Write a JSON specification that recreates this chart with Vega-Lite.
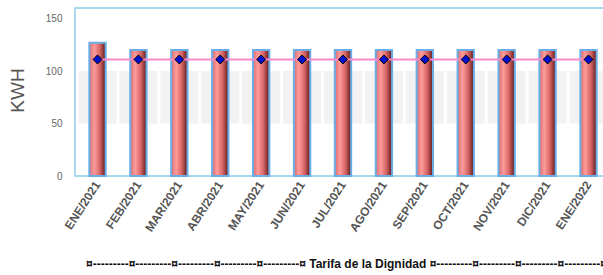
{
  "$schema": "https://vega.github.io/schema/vega-lite/v6.json",
  "width": 536,
  "height": 168,
  "autosize": {"type": "none"},
  "padding": {"left": 75, "top": 8, "right": 0, "bottom": 99},
  "background": "white",
  "config": {
    "font": "Liberation Sans",
    "view": {"stroke": "#a8d8ee", "strokeWidth": 2}
  },
  "title": {
    "text": "¤---------¤---------¤---------¤---------¤---------¤ Tarifa de la Dignidad ¤---------¤---------¤---------¤---------¤",
    "orient": "bottom",
    "anchor": "start",
    "frame": "group",
    "dx": 11,
    "offset": 26,
    "fontSize": 12,
    "fontWeight": "bold",
    "color": "#111111"
  },
  "data": {
    "values": [
      {"mes": "ENE/2021", "kwh": 127, "tarifa": 111, "lo": 50, "hi": 100},
      {"mes": "FEB/2021", "kwh": 120, "tarifa": 111, "lo": 50, "hi": 100},
      {"mes": "MAR/2021", "kwh": 120, "tarifa": 111, "lo": 50, "hi": 100},
      {"mes": "ABR/2021", "kwh": 120, "tarifa": 111, "lo": 50, "hi": 100},
      {"mes": "MAY/2021", "kwh": 120, "tarifa": 111, "lo": 50, "hi": 100},
      {"mes": "JUN/2021", "kwh": 120, "tarifa": 111, "lo": 50, "hi": 100},
      {"mes": "JUL/2021", "kwh": 120, "tarifa": 111, "lo": 50, "hi": 100},
      {"mes": "AGO/2021", "kwh": 120, "tarifa": 111, "lo": 50, "hi": 100},
      {"mes": "SEP/2021", "kwh": 120, "tarifa": 111, "lo": 50, "hi": 100},
      {"mes": "OCT/2021", "kwh": 120, "tarifa": 111, "lo": 50, "hi": 100},
      {"mes": "NOV/2021", "kwh": 120, "tarifa": 111, "lo": 50, "hi": 100},
      {"mes": "DIC/2021", "kwh": 120, "tarifa": 111, "lo": 50, "hi": 100},
      {"mes": "ENE/2022", "kwh": 120, "tarifa": 111, "lo": 50, "hi": 100}
    ]
  },
  "encoding": {
    "x": {
      "field": "mes",
      "type": "nominal",
      "sort": null,
      "scale": {"paddingInner": 0, "paddingOuter": 0.05},
      "axis": {
        "title": null,
        "labelAngle": -57,
        "labelFontSize": 12,
        "labelFontWeight": "bold",
        "labelColor": "#555555",
        "labelPadding": 6,
        "ticks": false,
        "domain": false
      }
    }
  },
  "layer": [
    {
      "mark": {"type": "bar", "fill": "#f2f2f2", "width": {"band": 0.93}},
      "encoding": {
        "y": {
          "field": "lo",
          "type": "quantitative",
          "scale": {"domain": [0, 150]},
          "axis": {
            "title": "KWH",
            "values": [0, 50, 100, 150],
            "grid": false,
            "ticks": false,
            "domain": false,
            "labelFontSize": 10,
            "labelColor": "#666666",
            "labelPadding": 13,
            "titleFontSize": 19,
            "titleFontWeight": "normal",
            "titleColor": "#555555",
            "titleAngle": -90,
            "titleAlign": "center",
            "titleBaseline": "middle",
            "titleX": -58,
            "titleY": 82
          }
        },
        "y2": {"field": "hi"}
      }
    },
    {
      "mark": {
        "type": "bar",
        "width": {"band": 0.4},
        "stroke": "#6aaee8",
        "strokeWidth": 2,
        "fill": {
          "gradient": "linear",
          "x1": 0, "x2": 1, "y1": 0, "y2": 0,
          "stops": [
            {"offset": 0, "color": "#d86a6a"},
            {"offset": 0.3, "color": "#ff9c9c"},
            {"offset": 0.65, "color": "#d66464"},
            {"offset": 1, "color": "#5a1818"}
          ]
        }
      },
      "encoding": {"y": {"field": "kwh", "type": "quantitative"}}
    },
    {
      "mark": {"type": "line", "color": "#ff88c8", "strokeWidth": 2},
      "encoding": {"y": {"field": "tarifa", "type": "quantitative"}}
    },
    {
      "mark": {"type": "point", "shape": "diamond", "size": 80, "filled": true, "fill": "#0010d0", "stroke": "#000000", "strokeWidth": 1, "opacity": 1},
      "encoding": {"y": {"field": "tarifa", "type": "quantitative"}}
    }
  ]
}
